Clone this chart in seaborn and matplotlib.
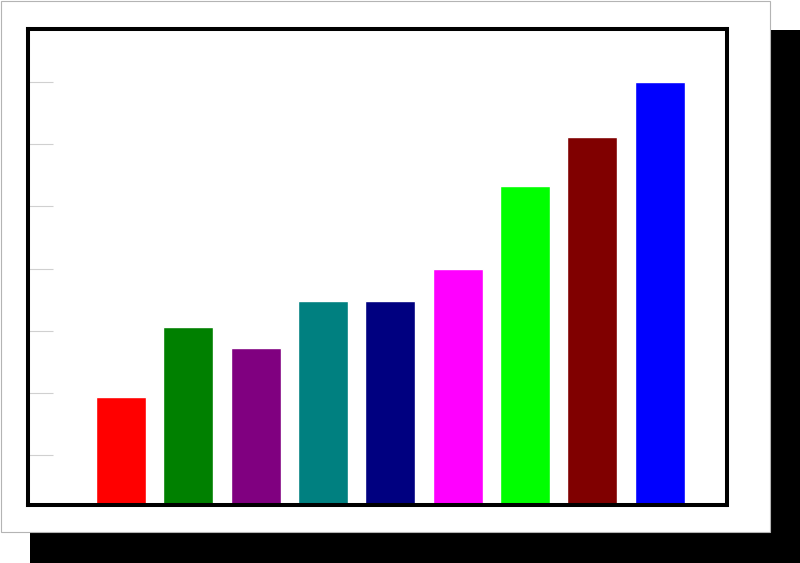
import matplotlib
matplotlib.use("Agg")
import matplotlib.pyplot as plt
import pandas as pd
import seaborn as sns
from matplotlib.patches import Rectangle

categories = ["A", "B", "C", "D", "E", "F", "G", "H", "I"]
values = [1.94, 3.07, 2.73, 3.48, 3.48, 4.0, 5.33, 6.12, 7.0]
bar_colors = ["#ff0000", "#008000", "#800080", "#008080", "#000080",
              "#ff00ff", "#00ff00", "#800000", "#0000ff"]
grid_ticks = [1, 2, 3, 4, 5, 6, 7]

sns.set_style("white")
plt.rcParams["font.family"] = ["DejaVu Sans"]

W, H = 800, 563
fig = plt.figure(figsize=(W / 100, H / 100), dpi=100, facecolor="white")

# drop shadow and white card behind the plot
fig.patches.append(Rectangle((30 / W, 0), 1 - 30 / W, (H - 30) / H,
                             transform=fig.transFigure, facecolor="black",
                             edgecolor="none", zorder=0))
fig.patches.append(Rectangle((0.5 / W, (H - 532) / H), 769 / W, 532 / H - 0.5 / H,
                             transform=fig.transFigure, facecolor="white",
                             edgecolor="#b4b4b4", linewidth=0.8, zorder=1))

ax = fig.add_axes([28 / W, (H - 505) / H, 698.5 / W, 476.5 / H])
ax.set_zorder(2)
ax.set_facecolor("white")

df = pd.DataFrame({"category": categories, "value": values})
sns.barplot(data=df, x="category", y="value", hue="category",
            palette=bar_colors, legend=False, width=0.742,
            saturation=1, ax=ax)

ax.set_xlim(-1.38, 8.99)
ax.set_ylim(0.205, 7.855)
ax.set_yticks(grid_ticks)
ax.set_xticks([])
ax.set_yticklabels([])
ax.tick_params(axis="y", direction="in", length=18, width=0.8,
               color="#d0d0d0", left=True, right=False)
ax.set_xlabel("")
ax.set_ylabel("")
for spine in ax.spines.values():
    spine.set_color("black")
    spine.set_linewidth(2.9)
    spine.set_zorder(5)

fig.savefig("out.png", dpi=100, facecolor="white")
